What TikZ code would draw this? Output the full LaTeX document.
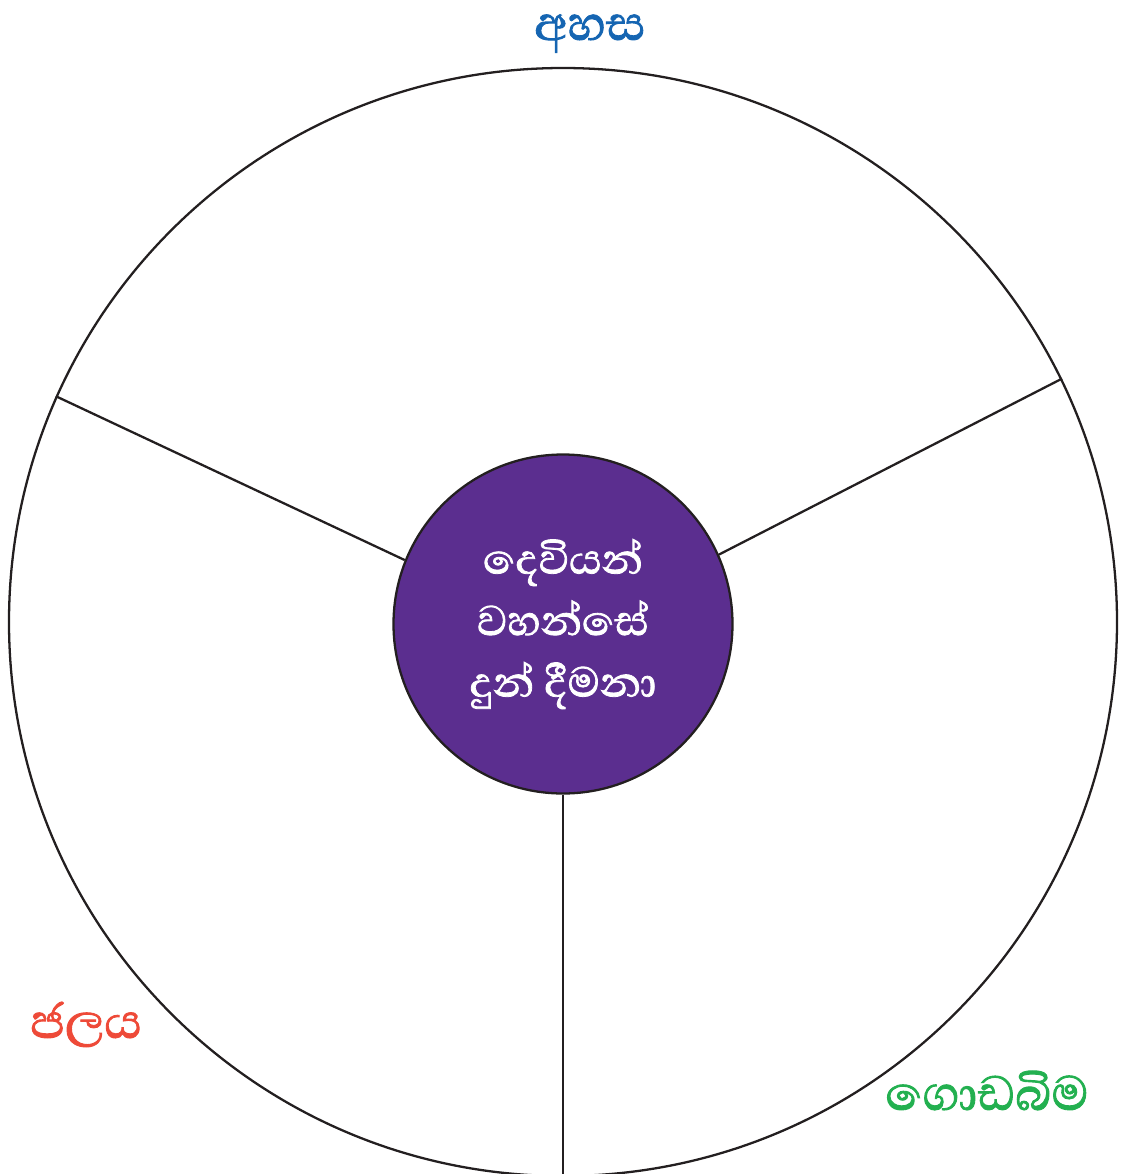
\documentclass[tikz,border=0pt]{standalone}
\usepackage{fontspec}
\newfontfamily\sinhala[Script=Sinhala,AutoFakeBold=1.5]{Abhaya Libre}
\usepackage{tikz}
\usetikzlibrary{positioning}

\definecolor{skyblue}{RGB}{21,101,178}
\definecolor{waterred}{RGB}{238,74,56}
\definecolor{landgreen}{RGB}{35,176,80}
\definecolor{giftpurple}{RGB}{91,46,143}
\definecolor{inkline}{RGB}{35,31,32}

\begin{document}
\begin{tikzpicture}[x=0.02cm, y=-0.02cm, line width=1.3pt]
			\tikzstyle{lbl}=[font=\sinhala\bfseries\fontsize{35}{40}\selectfont, inner sep=0pt, text height=0.55em, text depth=0.2em]
			\useasboundingbox (0,0) rectangle (1126,1174);
			\begin{scope}
			\clip (0,0) rectangle (1126,1174);
			\node[draw=inkline, circle, minimum size=1108*0.02cm, inner sep=0pt] (world) at (563,622) {};
			\node[draw=inkline, fill=giftpurple, circle, minimum size=339*0.02cm, inner sep=0pt, align=center, text=white, font=\sinhala\bfseries\fontsize{30.5}{35}\selectfont] (gift) at (563,624) {දෙවියන්\\වහන්සේ\\දුන් දීමනා};
			\draw[inkline] (gift.24) -- (world.26);
			\draw[inkline] (gift.158) -- (world.156);
			\draw[inkline] (gift.south) -- (world.south);
			\end{scope}
			\node[lbl, text=skyblue, anchor=base] (sky) at (590,40) {අහස};
			\node[lbl, text=waterred, anchor=base] (water) at (86,1038) {ජලය};
			\node[lbl, text=landgreen, anchor=base] (land) at (987,1110) {ගොඩබිම};
		\end{tikzpicture}
\end{document}
